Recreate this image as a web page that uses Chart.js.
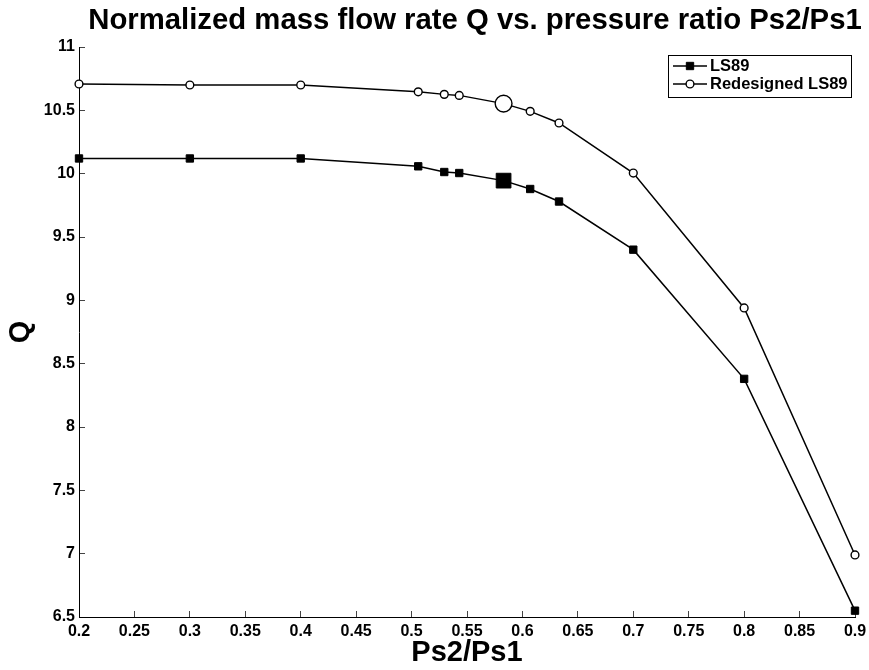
<!DOCTYPE html>
<html>
<head>
<meta charset="utf-8">
<script src="https://cdn.jsdelivr.net/npm/chart.js@4.4.1/dist/chart.umd.min.js"></script>
<style>
  html, body { margin: 0; padding: 0; background: #fff; }
  #wrap { width: 869px; height: 670px; position: relative; }
</style>
</head>
<body>
<div id="wrap"><canvas id="c" width="869" height="670"></canvas></div>
<script>
// ---- data ----
const pressureRatio = [0.2, 0.3, 0.4, 0.506, 0.5295, 0.543, 0.583, 0.607, 0.633, 0.7, 0.8, 0.9];
const ls89 =          [10.12, 10.12, 10.12, 10.058, 10.013, 10.005, 9.945, 9.879, 9.78, 9.40, 8.38, 6.55];
const redesigned =    [10.708, 10.70, 10.70, 10.646, 10.626, 10.618, 10.553, 10.492, 10.40, 10.005, 8.94, 6.99];
const xTicks = [0.2, 0.25, 0.3, 0.35, 0.4, 0.45, 0.5, 0.55, 0.6, 0.65, 0.7, 0.75, 0.8, 0.85, 0.9];
const yTicks = [6.5, 7, 7.5, 8, 8.5, 9, 9.5, 10, 10.5, 11];
const seriesNames = ['LS89', 'Redesigned LS89'];
const titleText = 'Normalized mass flow rate Q vs. pressure ratio Ps2/Ps1';
const highlightIndex = 6; // enlarged marker

const FONT = '"Liberation Sans", Arial, Helvetica, sans-serif';

function radii(small, big) {
  return pressureRatio.map((_, i) => i === highlightIndex ? big : small);
}

new Chart(document.getElementById('c'), {
  type: 'line',
  data: {
    datasets: [
      {
        label: seriesNames[0],
        data: pressureRatio.map((x, i) => ({ x, y: ls89[i] })),
        borderColor: '#000',
        backgroundColor: '#000',
        borderWidth: 1.5,
        pointStyle: 'rect',
        pointRadius: radii(5.2, 10.4),
        pointBorderWidth: 1,
        pointBackgroundColor: '#000',
        pointBorderColor: '#000',
        tension: 0
      },
      {
        label: seriesNames[1],
        data: pressureRatio.map((x, i) => ({ x, y: redesigned[i] })),
        borderColor: '#000',
        backgroundColor: '#fff',
        borderWidth: 1.5,
        pointStyle: 'circle',
        pointRadius: radii(3.9, 8.4),
        pointBorderWidth: 1.4,
        pointBackgroundColor: '#fff',
        pointBorderColor: '#000',
        tension: 0
      }
    ]
  },
  options: {
    responsive: false,
    animation: false,
    events: [],
    clip: false,
    layout: { padding: { top: 47, left: 0, right: 14, bottom: 0 } },
    plugins: {
      legend: { display: false },
      tooltip: { enabled: false },
      title: { display: false }
    },
    scales: {
      x: {
        type: 'linear',
        min: 0.2,
        max: 0.9,
        afterBuildTicks(scale) { scale.ticks = xTicks.map(v => ({ value: v })); },
        afterFit(scale) { scale.height = 53; scale.paddingLeft = 0; scale.paddingRight = 0; },
        border: { display: true, color: '#000', width: 1 },
        grid: { drawOnChartArea: false, drawTicks: true, tickLength: -6, color: '#444', lineWidth: 1 },
        ticks: {
          color: '#000',
          font: { family: FONT, size: 16, weight: 'bold' },
          padding: 10.5,
          maxRotation: 0,
          autoSkip: false,
          callback: v => String(v)
        },
        title: {
          display: true,
          text: 'Ps2/Ps1',
          color: '#000',
          font: { family: FONT, size: 29, weight: 'bold', lineHeight: 1.2 },
          padding: { top: 0, bottom: 0 }
        }
      },
      y: {
        type: 'linear',
        min: 6.5,
        max: 11,
        afterBuildTicks(scale) { scale.ticks = yTicks.map(v => ({ value: v })); },
        afterFit(scale) { scale.width = 79; scale.paddingTop = 0; scale.paddingBottom = 0; },
        border: { display: true, color: '#000', width: 1 },
        grid: { drawOnChartArea: false, drawTicks: true, tickLength: -6, color: '#444', lineWidth: 1 },
        ticks: {
          color: '#000',
          font: { family: FONT, size: 16, weight: 'bold' },
          padding: 10,
          autoSkip: false,
          callback: v => String(v)
        },
        title: {
          display: true,
          text: 'Q',
          color: '#000',
          font: { family: FONT, size: 29, weight: 'bold', lineHeight: 1.2 },
          padding: { top: 4, bottom: 0 }
        }
      }
    }
  },
  plugins: [{
    id: 'matlabTitle',
    afterDraw(chart) {
      const ctx = chart.ctx;
      ctx.save();
      ctx.fillStyle = '#000';
      ctx.font = 'bold 29.3px ' + FONT;
      ctx.textAlign = 'center';
      ctx.textBaseline = 'middle';
      ctx.fillText(titleText, 475, 20.8);
      ctx.restore();
    }
  }, {
    id: 'boxLegend',
    afterDraw(chart) {
      const ctx = chart.ctx;
      const x0 = 668, y0 = 55, w = 183, h = 42;
      ctx.save();
      ctx.fillStyle = '#fff';
      ctx.fillRect(x0, y0, w, h);
      ctx.strokeStyle = '#000';
      ctx.lineWidth = 1;
      ctx.strokeRect(x0 + 0.5, y0 + 0.5, w, h);
      const rows = [y0 + 11, y0 + 29];
      chart.data.datasets.forEach((ds, i) => {
        const y = rows[i];
        ctx.strokeStyle = '#000';
        ctx.lineWidth = 1.5;
        ctx.beginPath();
        ctx.moveTo(x0 + 5, y);
        ctx.lineTo(x0 + 39, y);
        ctx.stroke();
        ctx.fillStyle = ds.pointBackgroundColor;
        ctx.strokeStyle = ds.pointBorderColor;
        ctx.lineWidth = ds.pointBorderWidth;
        Chart.helpers.drawPoint(ctx, {
          pointStyle: ds.pointStyle,
          radius: i === 0 ? 5.2 : 3.9,
          borderWidth: ds.pointBorderWidth,
          rotation: 0
        }, x0 + 22, y);
        ctx.fillStyle = '#000';
        ctx.font = 'bold 16.5px ' + FONT;
        ctx.textBaseline = 'middle';
        ctx.textAlign = 'left';
        ctx.fillText(ds.label, x0 + 42, y + 0.5);
      });
      ctx.restore();
    }
  }]
});
</script>
</body>
</html>
